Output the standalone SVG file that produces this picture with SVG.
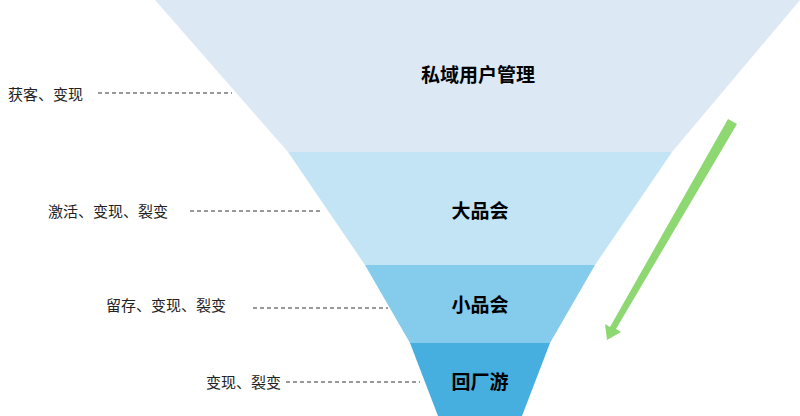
<svg xmlns="http://www.w3.org/2000/svg" width="800" height="416" viewBox="0 0 800 416">
<style>
.t{font-family:"Noto Sans CJK SC","Liberation Sans",sans-serif;font-size:15px;fill:#222}
.b{font-family:"Noto Sans CJK SC","Liberation Sans",sans-serif;font-size:19px;font-weight:bold;fill:#000;text-anchor:middle}
.d{stroke:#333;stroke-width:1;stroke-dasharray:4,3;fill:none}
</style>
<rect width="800" height="416" fill="#fff"/>
<g id="n1"><polygon points="155,0 800,0 672,152 288,152" fill="#dce9f5"/><text class="b" x="478" y="82">私域用户管理</text></g>
<g id="n2"><polygon points="288,152 672,152 595,265 365,265" fill="#c2e4f4"/><text class="b" x="480" y="218">大品会</text></g>
<g id="n3"><polygon points="365,265 595,265 550,343 410,343" fill="#85cbec"/><text class="b" x="480" y="312">小品会</text></g>
<g id="n4"><polygon points="410,343 550,343 522,416 438,416" fill="#46afe0"/><text class="b" x="480" y="389">回厂游</text></g>
<g id="labels">
<text class="t" x="8" y="100">获客、变现</text>
<text class="t" x="48" y="217">激活、变现、裂变</text>
<text class="t" x="106" y="311">留存、变现、裂变</text>
<text class="t" x="206" y="388">变现、裂变</text>
</g>
<g id="connectors">
<line class="d" x1="98" y1="93" x2="232" y2="93"/>
<line class="d" x1="190" y1="211" x2="323" y2="211"/>
<line class="d" x1="253" y1="308" x2="388" y2="308"/>
<line class="d" x1="286" y1="382" x2="420" y2="382"/>
<polygon points="728,119 737,124 616,329 621,332 607,340 605,324 610,327" fill="#8ed872"/>
</g>
</svg>
